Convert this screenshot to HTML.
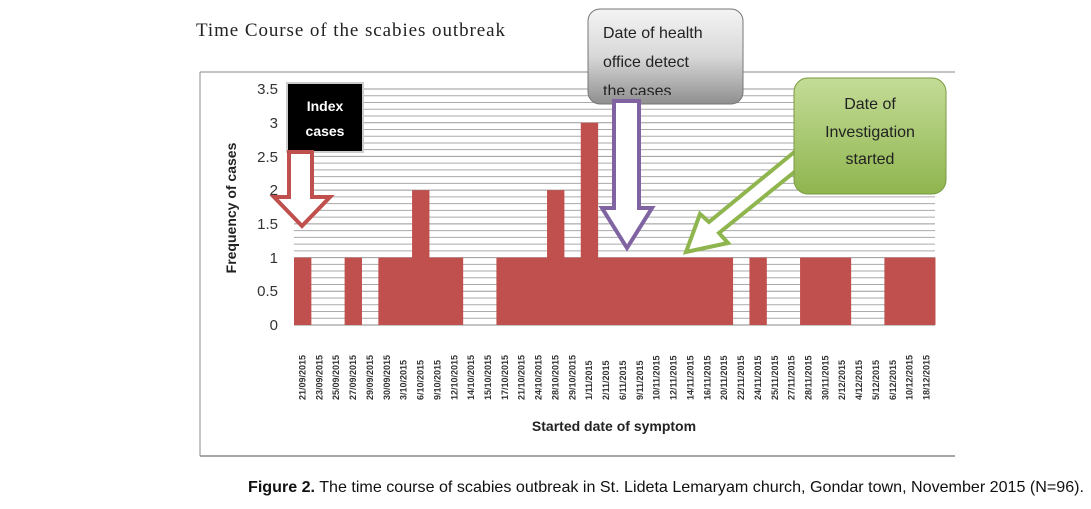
<!DOCTYPE html>
<html><head><style>
body{margin:0;background:#fff;width:1091px;height:509px;overflow:hidden}
svg{display:block}
</style></head><body>
<svg width="1091" height="509" viewBox="0 0 1091 509" xmlns="http://www.w3.org/2000/svg">
<defs>
<linearGradient id="gg" x1="0" y1="0" x2="0" y2="1"><stop offset="0" stop-color="#f4f4f4"/><stop offset="0.5" stop-color="#d8d8d8"/><stop offset="1" stop-color="#8f8f8f"/></linearGradient>
<linearGradient id="gr" x1="0" y1="0" x2="0" y2="1"><stop offset="0" stop-color="#c4dc97"/><stop offset="1" stop-color="#8fb54e"/></linearGradient>
<clipPath id="cb"><rect x="588" y="9" width="155" height="86"/></clipPath>
</defs>
<text x="196" y="36" font-family="Liberation Serif, serif" font-size="19" fill="#222" textLength="309" lengthAdjust="spacing">Time Course of the scabies  outbreak</text>
<line x1="200" y1="72" x2="955" y2="72" stroke="#888" stroke-width="1"/>
<line x1="200" y1="72" x2="200" y2="456" stroke="#888"/>
<line x1="200" y1="456" x2="955" y2="456" stroke="#888" stroke-width="1.5"/>
<g id="grid" stroke="#999" stroke-width="1"></g>
<g id="bars" fill="#c0504d"></g>
<g id="labels" font-family="Liberation Sans, sans-serif" font-size="9" font-weight="bold" fill="#333"></g>
<g font-family="Liberation Sans, sans-serif" font-size="15" fill="#333" text-anchor="end">
<text x="278" y="94">3.5</text><text x="278" y="128">3</text><text x="278" y="162">2.5</text><text x="278" y="195">2</text><text x="278" y="229">1.5</text><text x="278" y="263">1</text><text x="278" y="296">0.5</text><text x="278" y="330">0</text>
</g>
<text transform="translate(236,208) rotate(-90)" text-anchor="middle" font-family="Liberation Sans, sans-serif" font-size="14" font-weight="bold" fill="#222">Frequency of cases</text>
<text x="614" y="431" text-anchor="middle" font-family="Liberation Sans, sans-serif" font-size="14" font-weight="bold" fill="#222">Started date of symptom</text>
<rect x="287" y="83" width="76" height="69" fill="#000" stroke="#ccc" stroke-width="2"/>
<text x="325" y="111" text-anchor="middle" font-family="Liberation Sans, sans-serif" font-size="14" font-weight="bold" fill="#fff">Index</text>
<text x="325" y="136" text-anchor="middle" font-family="Liberation Sans, sans-serif" font-size="14" font-weight="bold" fill="#fff">cases</text>
<polygon points="289,152 312,152 312,197 330,197 302,226 274,197 289,197" fill="#fff" stroke="#c0504d" stroke-width="4"/>
<rect x="588" y="9" width="155" height="95" rx="12" fill="url(#gg)" stroke="#777"/>
<g clip-path="url(#cb)">
<text x="603" y="38" font-family="Liberation Sans, sans-serif" font-size="16" fill="#222">Date of health</text>
<text x="603" y="67" font-family="Liberation Sans, sans-serif" font-size="16" fill="#222">office detect</text>
<text x="603" y="96" font-family="Liberation Sans, sans-serif" font-size="16" fill="#222">the cases</text>
</g>
<polygon points="614,101 639,101 639,208 652,208 627,248 602,208 614,208" fill="#fff" stroke="#8064a2" stroke-width="4"/>
<polygon points="798,149 808,161 719,233 728,243 686,252 700,214 709,222" fill="#fff" stroke="#8fb54e" stroke-width="4"/>
<rect x="794" y="78" width="152" height="116" rx="14" fill="url(#gr)" stroke="#7a9a40"/>
<text x="870" y="109" text-anchor="middle" font-family="Liberation Sans, sans-serif" font-size="16" fill="#222">Date of</text>
<text x="870" y="137" text-anchor="middle" font-family="Liberation Sans, sans-serif" font-size="16" fill="#222">Investigation</text>
<text x="870" y="164" text-anchor="middle" font-family="Liberation Sans, sans-serif" font-size="16" fill="#222">started</text>
<text x="248" y="492" font-family="Liberation Sans, sans-serif" font-size="16" fill="#111" textLength="836" lengthAdjust="spacingAndGlyphs"><tspan font-weight="bold">Figure 2.</tspan> The time course of scabies outbreak in St. Lideta Lemaryam church, Gondar town, November 2015 (N=96).</text>
</svg>
<script>
const ns="http://www.w3.org/2000/svg";
const g=document.getElementById("grid"),b=document.getElementById("bars"),l=document.getElementById("labels");
const x0=294,x1=935,y0=325,yTop=89,per=(y0-yTop)/35;
for(let i=1;i<=35;i++){const y=y0-i*per;const e=document.createElementNS(ns,"line");e.setAttribute("x1",x0);e.setAttribute("x2",x1);e.setAttribute("y1",y);e.setAttribute("y2",y);if(i%5)e.setAttribute("stroke","#aaa");g.appendChild(e);}
const ax=document.createElementNS(ns,"line");ax.setAttribute("x1",x0);ax.setAttribute("x2",x1);ax.setAttribute("y1",y0);ax.setAttribute("y2",y0);ax.setAttribute("stroke","#888");g.appendChild(ax);
const labs=["21/09/2015","23/09/2015","25/09/2015","27/09/2015","29/09/2015","30/09/2015","3/10/2015","6/10/2015","9/10/2015","12/10/2015","14/10/2015","15/10/2015","17/10/2015","21/10/2015","24/10/2015","28/10/2015","29/10/2015","1/11/2015","2/11/2015","6/11/2015","9/11/2015","10/11/2015","12/11/2015","14/11/2015","16/11/2015","20/11/2015","22/11/2015","24/11/2015","25/11/2015","27/11/2015","28/11/2015","30/11/2015","2/12/2015","4/12/2015","5/12/2015","6/12/2015","10/12/2015","18/12/2015"];
const v=[1,0,0,1,0,1,1,2,1,1,0,0,1,1,1,2,1,3,1,1,1,1,1,1,1,1,0,1,0,0,1,1,1,0,0,1,1,1];
const w=(x1-x0)/38;
v.forEach((val,i)=>{if(val){const r=document.createElementNS(ns,"rect");r.setAttribute("x",x0+i*w);r.setAttribute("width",w+0.5);r.setAttribute("y",y0-val*10*per);r.setAttribute("height",val*10*per);b.appendChild(r);}
const t=document.createElementNS(ns,"text");const cx=x0+i*w+w/2+3;t.setAttribute("transform",`translate(${cx},400) rotate(-90)`);t.textContent=labs[i];l.appendChild(t);});
</script>
</body></html>
